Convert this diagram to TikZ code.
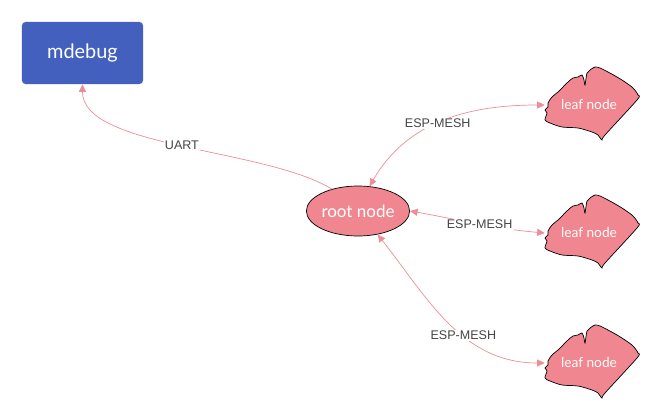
\documentclass[tikz,border=0pt]{standalone}
\usepackage{fontspec}
\setmainfont{Liberation Sans}
\newfontfamily\lato{Lato}
\usetikzlibrary{arrows.meta,shapes.geometric}

\definecolor{meshpink}{HTML}{F0868F}
\definecolor{linkpink}{HTML}{EC8E98}
\definecolor{debugblue}{HTML}{4360BE}
\definecolor{labelgray}{HTML}{444444}

\tikzset{
  debugbox/.style={fill=debugblue, rounded corners=3pt, minimum width=3.63cm, minimum height=1.86cm,
    inner sep=0pt, text=white, font=\lato\fontsize{17}{20}\selectfont},
  rootnode/.style={ellipse, draw=black, line width=0.6pt, fill=meshpink, minimum width=3.03cm,
    minimum height=1.5cm, inner sep=0pt, text=white, font=\lato\fontsize{14.5}{17}\selectfont},
  leafnode/.style={minimum width=2.64cm, inner sep=0pt, text=white, font=\lato\fontsize{11.7}{14}\selectfont},
  blob/.style={draw=black, line width=0.6pt, fill=meshpink},
  link/.style={draw=linkpink, line width=0.6pt},
  lbl/.style={fill=white, text=labelgray, inner sep=1pt, font=\fontsize{10.7}{12}\selectfont},
  tip/.tip={Triangle[length=6.5pt, width=6pt]}
}

\begin{document}
\begin{tikzpicture}[x=0.03cm, y=-0.03cm]

\useasboundingbox (0,0) rectangle (659,417);

\node[debugbox] (mdebug) at (82.5,53) {mdebug};

\node[rootnode] (root) at (358,211) {root node};

\foreach \y/\n in {105/leafa, 233/leafb, 363/leafc} {
  \filldraw[blob, shift={(589,\y)}] plot[smooth cycle, tension=0.5] coordinates {
    (-37,-8) (-31,-13) (-26,-18) (-21,-23) (-16,-27) (-11,-28) (-7,-30) (-5,-25) (-4,-20)
    (-2,-32) (1,-35) (6,-38) (11,-37) (19,-33) (28,-28) (36,-23) (44,-17) (49,-10) (48,-5)
    (16,30) (13,35) (9,30) (3,27) (-11,23) (-27,22) (-39,18) (-44,15) (-42,8) (-44,5)
    (-41,2) (-41,-2)};
  \node[leafnode] (\n) at (589,\y) {leaf node};
}

\draw[link, -tip] (root.140) .. controls (265,148) and (82,148) .. node[lbl, pos=0.5] {UART} (mdebug.south);
\draw[link, tip-tip] (root.65) to[out=60, in=180] node[lbl, pos=0.47] {ESP-MESH} (leafa.west);
\draw[link, tip-tip] (root.east) to[out=-10, in=175] node[lbl, pos=0.52] {ESP-MESH} (leafb.west);
\draw[link, tip-tip] (root.-50) to[out=-52, in=180] node[lbl, pos=0.59] {ESP-MESH} (leafc.west);

\end{tikzpicture}
\end{document}
